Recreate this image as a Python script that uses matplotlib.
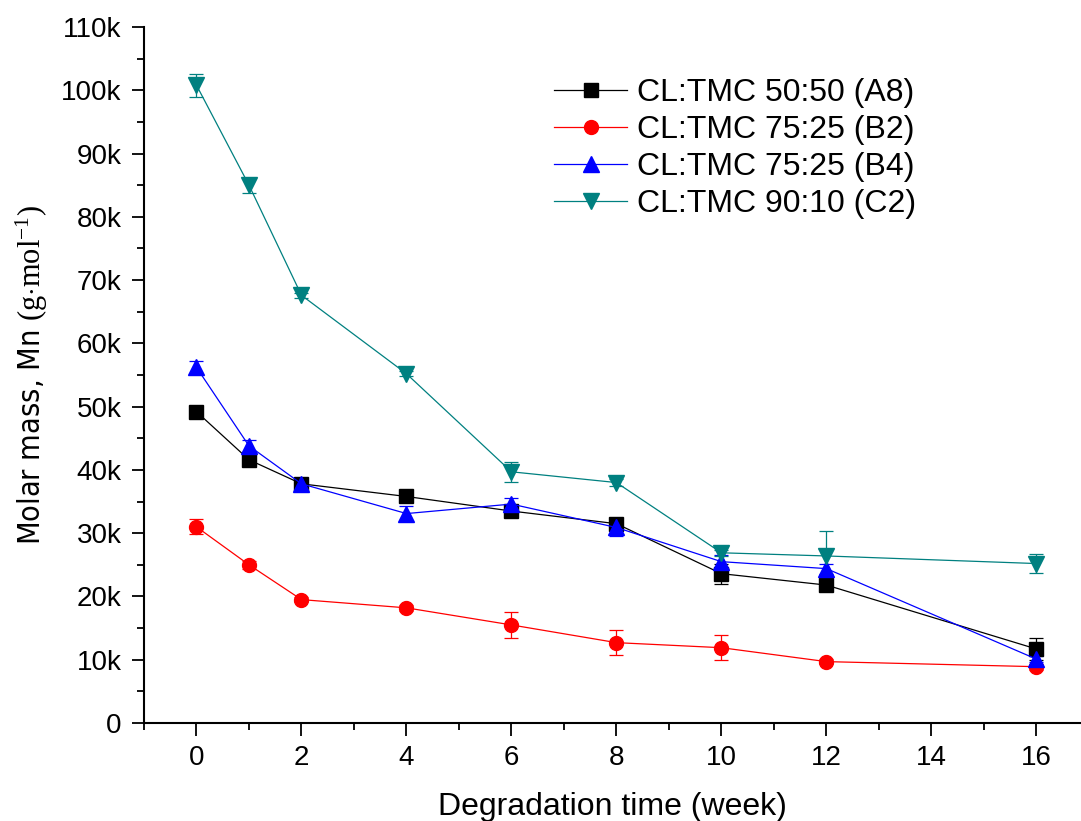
import matplotlib
matplotlib.use("Agg")
import matplotlib.pyplot as plt
from matplotlib.ticker import FixedLocator, FixedFormatter, MultipleLocator
from matplotlib import font_manager as fm
import os

# ---- data ----
weeks = [0, 1, 2, 4, 6, 8, 10, 12, 16]
a8 = [49200, 41600, 37800, 35800, 33500, 31500, 23600, 21800, 11700]
a8_err = [500, 500, 500, 500, 500, 500, 1600, 700, 1700]
b2 = [31000, 25000, 19500, 18200, 15500, 12700, 11900, 9700, 8900]
b2_err = [1200, 600, 400, 500, 2100, 2000, 2000, 400, 500]
b4 = [56200, 43800, 37800, 33100, 34600, 30900, 25500, 24400, 10100]
b4_err = [1000, 1000, 800, 1200, 1000, 1300, 1000, 800, 500]
c2 = [100800, 85000, 67600, 55200, 39700, 38000, 26900, 26400, 25200]
c2_err = [1800, 1200, 400, 400, 1600, 500, 500, 4000, 1500]

labels = ["CL:TMC 50:50 (A8)", "CL:TMC 75:25 (B2)",
          "CL:TMC 75:25 (B4)", "CL:TMC 90:10 (C2)"]
ytick_vals = [0, 10000, 20000, 30000, 40000, 50000, 60000,
              70000, 80000, 90000, 100000, 110000]
ytick_labels = ["0", "10k", "20k", "30k", "40k", "50k", "60k",
                "70k", "80k", "90k", "100k", "110k"]
xtick_vals = [0, 2, 4, 6, 8, 10, 12, 14, 16]

# ---- fonts ----
plt.rcParams['font.family'] = ['Liberation Sans', 'DejaVu Sans']
plt.rcParams['mathtext.fontset'] = 'custom'
plt.rcParams['mathtext.rm'] = 'Liberation Serif'
plt.rcParams['mathtext.it'] = 'Liberation Serif:italic'

def pick_narrow():
    for fam, st in [('Liberation Sans Narrow', 'normal'),
                    ('DejaVu Sans', 'condensed'),
                    ('Roboto Condensed', 'normal')]:
        try:
            p = fm.findfont(fm.FontProperties(family=fam, stretch=st),
                            fallback_to_default=False)
            b = os.path.basename(p).lower()
            if 'narrow' in b or 'condensed' in b:
                return fm.FontProperties(fname=p)
        except Exception:
            pass
    return fm.FontProperties(family='Liberation Sans')

narrow = pick_narrow()

W, H = 1081, 821
fig = plt.figure(figsize=(W / 100, H / 100), dpi=100)
ax = fig.add_axes([144 / W, (H - 723) / H, (W - 144) / W, (723 - 27) / H])

series = [(a8, a8_err, '#000000', 's', 9.5),
          (b2, b2_err, '#FF0000', 'o', 10),
          (b4, b4_err, '#0000FF', '^', 11.5),
          (c2, c2_err, '#008080', 'v', 11.5)]

handles = []
for (vals, errs, col, mk, ms), lab in zip(series, labels):
    cont = ax.errorbar(weeks, vals, yerr=errs, color=col, marker=mk,
                       markersize=ms, markeredgecolor=col, linewidth=0.9,
                       elinewidth=0.9, capsize=4.8, capthick=0.9, label=lab)
    handles.append(cont.lines[0])

ax.set_xlim(-1, 16.85)
ax.set_ylim(0, 110000)
ax.yaxis.set_major_locator(FixedLocator(ytick_vals))
ax.yaxis.set_major_formatter(FixedFormatter(ytick_labels))
ax.yaxis.set_minor_locator(MultipleLocator(5000))
ax.xaxis.set_major_locator(FixedLocator(xtick_vals))
ax.xaxis.set_minor_locator(MultipleLocator(1))

for s in ['top', 'right']:
    ax.spines[s].set_visible(False)
for s in ['left', 'bottom']:
    ax.spines[s].set_linewidth(1.5)

ax.tick_params(which='major', direction='out', length=9, width=1.3,
               labelsize=20, pad=7)
ax.tick_params(which='minor', direction='out', length=5, width=1.3)

ax.set_xlabel("Degradation time (week)", fontsize=23, labelpad=15)
ax.set_ylabel(r"Molar mass, Mn $\mathrm{(g{\cdot}mol^{-1})}$",
              fontproperties=narrow, fontsize=22, labelpad=8)
ax.yaxis.label.set_size(22)

leg = ax.legend(handles, labels, loc='upper left',
                bbox_to_anchor=(554 / W, (H - 78) / H),
                bbox_transform=fig.transFigure, frameon=False, fontsize=23,
                handlelength=2.3, handletextpad=0.3, labelspacing=0.22,
                borderaxespad=0, borderpad=0)

fig.savefig("out.png", dpi=100)
